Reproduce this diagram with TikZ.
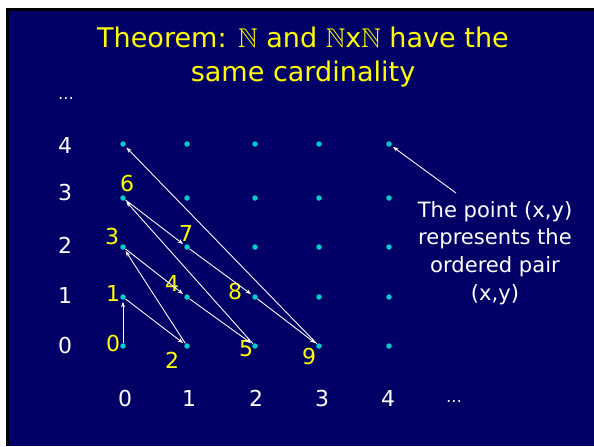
\documentclass[tikz,border=0pt]{standalone}
\usepackage{amssymb}
\usepackage{fontspec}
\setmainfont{DejaVu Sans}
\usetikzlibrary{arrows.meta}
\definecolor{slidebg}{RGB}{0,0,102}
\definecolor{dotcyan}{RGB}{0,204,204}
\definecolor{numyellow}{RGB}{255,255,0}

\begin{document}
\begin{tikzpicture}[x=0.02cm, y=-0.02cm,
    every node/.style={inner sep=0pt},
    dot/.style={circle, fill=dotcyan, minimum size=0.11cm},
    axis/.style={text=white, font=\fontsize{12.5}{14}\selectfont},
    num/.style={text=numyellow, font=\fontsize{12.5}{14}\selectfont},
    title/.style={text=numyellow, align=center, font=\fontsize{15.4}{19.8}\selectfont},
    note/.style={text=white, align=center, font=\fontsize{12}{15.8}\selectfont},
    link/.style={-{Stealth[length=1.1mm, width=0.8mm]}, white, line width=0.5pt, shorten >=1pt}]
  \useasboundingbox (0,0) rectangle (594,446);
  % slide background
  \fill[white] (0,0) rectangle (594,446);
  \fill[black] (6,8) rectangle (594,446);
  \fill[slidebg] (9,11) rectangle (594,446);
  \node[title] (title) at (303,57) {Theorem: $\mathbb{N}$ and $\mathbb{N}$x$\mathbb{N}$ have the\\same cardinality};
  % grid of pairs
  \foreach \i/\x in {0/123,1/187,2/255,3/319,4/389}
    \foreach \j/\y in {0/346,1/297,2/247,3/198,4/144}
      \node[dot] (p\i\j) at (\x,\y) {};
  % axes
  \foreach \i/\x in {0/125,1/189,2/256,3/322,4/388}
    \node[axis] (xl\i) at (\x,398) {\i};
  \foreach \j/\y in {0/346,1/295,2/245,3/193,4/145}
    \node[axis] (yl\j) at (65,\y) {\j};
  \node[axis, font=\small] (xdots) at (454,402) {…};
  \node[axis, font=\small] (ydots) at (66,99) {…};
  % order of enumeration
  \node[num] (n0) at (113,343) {0};
  \node[num] (n1) at (113,293) {1};
  \node[num] (n2) at (172,360) {2};
  \node[num] (n3) at (112,237) {3};
  \node[num] (n4) at (172,283) {4};
  \node[num] (n5) at (246,349) {5};
  \node[num] (n6) at (127,184) {6};
  \node[num] (n7) at (186,233) {7};
  \node[num] (n8) at (235,292) {8};
  \node[num] (n9) at (309,356) {9};
  \foreach \a/\b in {00/01,01/10,10/02,02/11,11/20,20/03,03/12,12/21,21/30,30/04}
    \draw[link] (p\a) -- (p\b);
  % remark
  \node[note] (note) at (495,253) {The point (x,y)\\represents the\\ordered pair\\(x,y)};
  \coordinate (tail) at (456,193);
  \draw[link] (tail) -- (p44);
\end{tikzpicture}
\end{document}
